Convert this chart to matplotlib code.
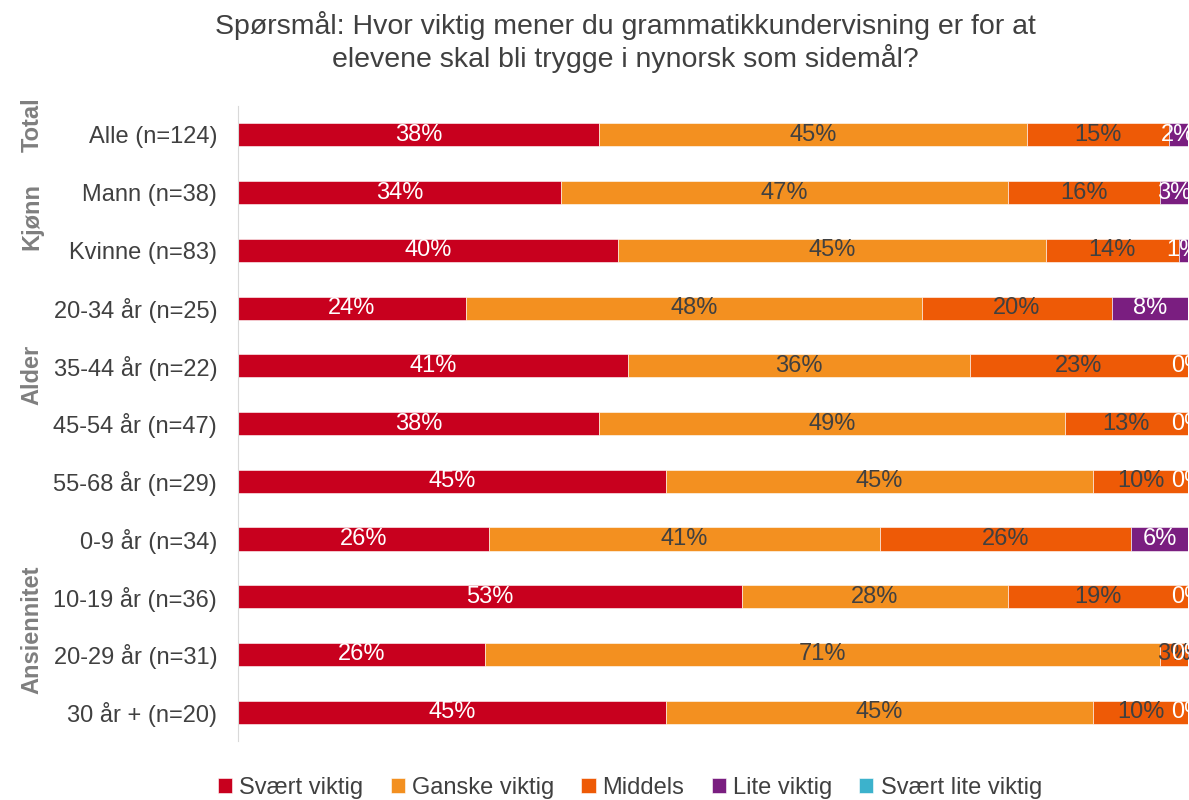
import matplotlib
matplotlib.use("Agg")
import matplotlib.pyplot as plt
import numpy as np

plt.rcParams['font.family'] = ['Liberation Sans', 'DejaVu Sans']

# data
rows = ["Alle (n=124)", "Mann (n=38)", "Kvinne (n=83)",
        "20-34 år (n=25)", "35-44 år (n=22)", "45-54 år (n=47)", "55-68 år (n=29)",
        "0-9 år (n=34)", "10-19 år (n=36)", "20-29 år (n=31)", "30 år + (n=20)"]
svaert_viktig = [38, 34, 40, 24, 41, 38, 45, 26.4, 53, 26, 45]
ganske_viktig = [45, 47, 45, 48, 36, 49, 45, 41.2, 28, 71, 45]
middels = [15, 16, 14, 20, 23, 13, 10, 26.4, 19, 3, 10]
lite_viktig = [2, 3, 1, 8, 0, 0, 0, 6, 0, 0, 0]
svaert_lite_viktig = [0, 0, 0, 0, 0, 0, 0, 0, 0, 0, 0]

series_names = ["Svært viktig", "Ganske viktig", "Middels", "Lite viktig", "Svært lite viktig"]
colors = ["#C8001E", "#F39020", "#EE5A06", "#7A1E80", "#3CB2CC"]
label_colors = ["white", "#404040", "#404040", "white", "white"]

groups = ["Total", "Kjønn", "Alder", "Ansiennitet"]
group_y = [125, 217, 375, 630]  # pixel centers

title = "Spørsmål: Hvor viktig mener du grammatikkundervisning er for at\nelevene skal bli trygge i nynorsk som sidemål?"

fig = plt.figure(figsize=(11.89, 8), dpi=100)
ax = fig.add_axes([238 / 1189, 1 - 741 / 800, 950 / 1189, 635 / 800])

data = [svaert_viktig, ganske_viktig, middels, lite_viktig, svaert_lite_viktig]
y = np.arange(len(rows))
left = np.zeros(len(rows))
for i, (vals, name) in enumerate(zip(data, series_names)):
    vals = np.array(vals, dtype=float)
    ax.barh(y, vals, left=left, height=0.4, color=colors[i], label=name,
            edgecolor="white", linewidth=0.4)
    for j, v in enumerate(vals):
        if i == 4:
            continue
        if v == 0 and i != 3:
            continue
        ax.text(left[j] + v / 2, y[j], f"{v:.0f}%", ha="center", va="center",
                fontsize=17, color=label_colors[i], clip_on=False)
    left += vals

ax.set_xlim(0, 100)
ax.set_ylim(len(rows) - 0.5, -0.5)
ax.set_yticks(y)
ax.set_yticklabels(rows, fontsize=17, color="#404040")
ax.set_xticks([])
ax.tick_params(axis="y", length=0, pad=15)
for s in ["top", "right", "bottom"]:
    ax.spines[s].set_visible(False)
ax.spines["left"].set_color("#D9D9D9")

for g, gy in zip(groups, group_y):
    fig.text(32 / 1189, 1 - gy / 800, g, rotation=90, ha="center", va="center",
             fontsize=17, fontweight="bold", color="#7F7F7F")

fig.text(625 / 1189, 1 - 42 / 800, title, ha="center", va="center",
         fontsize=20.5, color="#404040", linespacing=1.15)

leg = fig.legend(loc="center", bbox_to_anchor=(630 / 1189, 1 - 788 / 800), ncol=5,
                 frameon=False, fontsize=17, handlelength=0.6, handleheight=0.6,
                 handletextpad=0.3, columnspacing=1.15)
for t in leg.get_texts():
    t.set_color("#404040")

fig.savefig("out.png", dpi=100)
